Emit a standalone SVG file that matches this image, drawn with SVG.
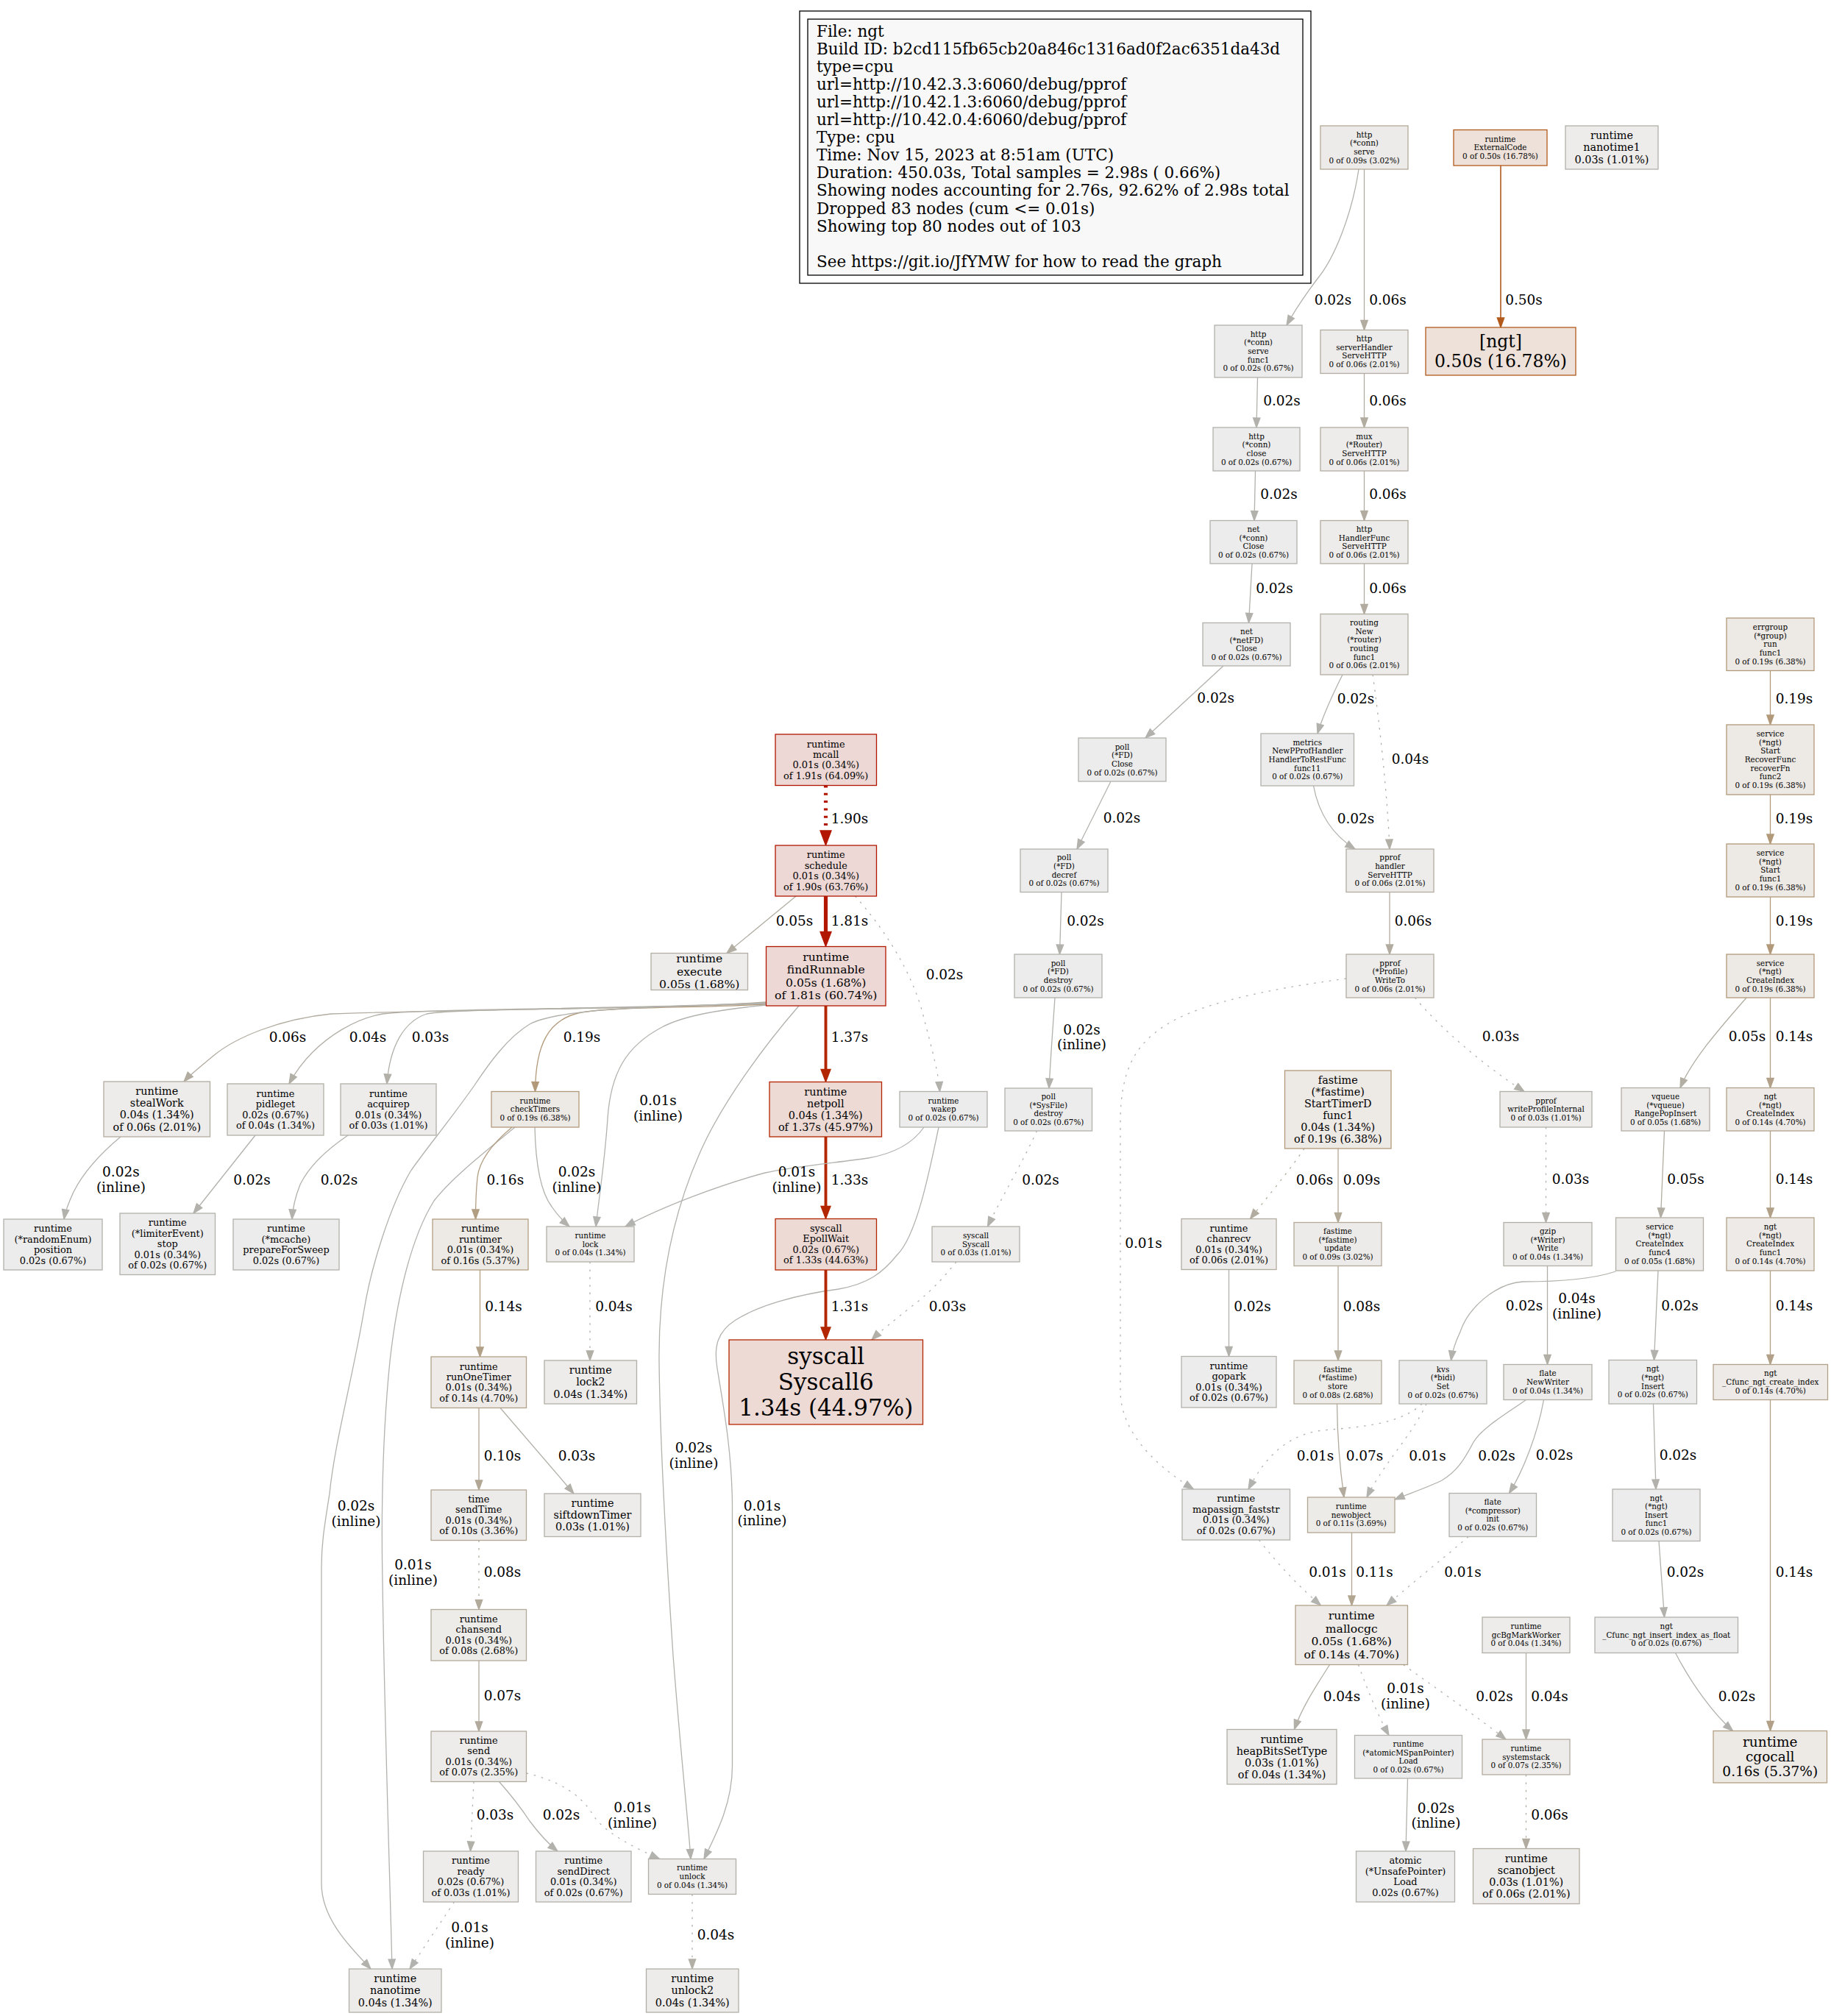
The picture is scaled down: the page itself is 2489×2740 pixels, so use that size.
<svg xmlns="http://www.w3.org/2000/svg" width="2489" height="2740" viewBox="0 0 2489 2740">
<style>
text{font-family:'DejaVu Serif','Liberation Serif',serif;fill:#000}
.node text{text-anchor:middle}
.f0{font-size:10.4px}.f1{font-size:12.9px}.f2{font-size:14.4px}.f3{font-size:15.6px}.f4{font-size:18.5px}.f5{font-size:23.5px}.f6{font-size:31px}
.node rect{stroke-width:1.3}
.n02{fill:#edecec;stroke:#b2b1ac}.n03{fill:#edeceb;stroke:#b2b0a9}.n04{fill:#edeceb;stroke:#b2afa6}.n05{fill:#edeceb;stroke:#b2aea3}
.n06{fill:#edecea;stroke:#b2aca0}.n07{fill:#edecea;stroke:#b2ab9d}.n08{fill:#edece9;stroke:#b2aa9a}.n09{fill:#edebe9;stroke:#b2a997}
.n10{fill:#edebe9;stroke:#b2a794}.n11{fill:#edebe8;stroke:#b2a691}.n14{fill:#edeae7;stroke:#b2a188}.n16{fill:#edeae6;stroke:#b29e82}
.n19{fill:#ede9e5;stroke:#b2997a}.n50{fill:#ede1d9;stroke:#b25a1c}
.nr1{fill:#edd8d5;stroke:#b21600}.nr2{fill:#edd8d5;stroke:#b21800}.nr3{fill:#eddad5;stroke:#b22500}.nr4{fill:#eddad5;stroke:#b22600}
.edge path{fill:none;stroke-width:1.3}
.edge text{font-size:18.5px;text-anchor:middle}
.d{stroke-dasharray:2.6 7.8}
.e01{stroke:#b2b2af}.e02{stroke:#b2b1ac}.e03{stroke:#b2b0a9}.e04{stroke:#b2afa6}.e05{stroke:#b2aea3}.e06{stroke:#b2aca0}
.e07{stroke:#b2ab9d}.e08{stroke:#b2aa9a}.e09{stroke:#b2a997}.e10{stroke:#b2a794}.e11{stroke:#b2a691}.e14{stroke:#b2a188}
.e16{stroke:#b29e82}.e19{stroke:#b2997a}.e50{stroke:#b25a1c}
</style>
<defs>
<marker id="a01" markerUnits="userSpaceOnUse" markerWidth="15" markerHeight="12" refX="14" refY="6" orient="auto" overflow="visible"><path d="M1,1.3 L14,6 L1,10.7 z" fill="#b2b2af" stroke="#b2b2af" stroke-width="1.3"/></marker>
<marker id="a02" markerUnits="userSpaceOnUse" markerWidth="15" markerHeight="12" refX="14" refY="6" orient="auto" overflow="visible"><path d="M1,1.3 L14,6 L1,10.7 z" fill="#b2b1ac" stroke="#b2b1ac" stroke-width="1.3"/></marker>
<marker id="a03" markerUnits="userSpaceOnUse" markerWidth="15" markerHeight="12" refX="14" refY="6" orient="auto" overflow="visible"><path d="M1,1.3 L14,6 L1,10.7 z" fill="#b2b0a9" stroke="#b2b0a9" stroke-width="1.3"/></marker>
<marker id="a04" markerUnits="userSpaceOnUse" markerWidth="15" markerHeight="12" refX="14" refY="6" orient="auto" overflow="visible"><path d="M1,1.3 L14,6 L1,10.7 z" fill="#b2afa6" stroke="#b2afa6" stroke-width="1.3"/></marker>
<marker id="a05" markerUnits="userSpaceOnUse" markerWidth="15" markerHeight="12" refX="14" refY="6" orient="auto" overflow="visible"><path d="M1,1.3 L14,6 L1,10.7 z" fill="#b2aea3" stroke="#b2aea3" stroke-width="1.3"/></marker>
<marker id="a06" markerUnits="userSpaceOnUse" markerWidth="15" markerHeight="12" refX="14" refY="6" orient="auto" overflow="visible"><path d="M1,1.3 L14,6 L1,10.7 z" fill="#b2aca0" stroke="#b2aca0" stroke-width="1.3"/></marker>
<marker id="a07" markerUnits="userSpaceOnUse" markerWidth="15" markerHeight="12" refX="14" refY="6" orient="auto" overflow="visible"><path d="M1,1.3 L14,6 L1,10.7 z" fill="#b2ab9d" stroke="#b2ab9d" stroke-width="1.3"/></marker>
<marker id="a08" markerUnits="userSpaceOnUse" markerWidth="15" markerHeight="12" refX="14" refY="6" orient="auto" overflow="visible"><path d="M1,1.3 L14,6 L1,10.7 z" fill="#b2aa9a" stroke="#b2aa9a" stroke-width="1.3"/></marker>
<marker id="a09" markerUnits="userSpaceOnUse" markerWidth="15" markerHeight="12" refX="14" refY="6" orient="auto" overflow="visible"><path d="M1,1.3 L14,6 L1,10.7 z" fill="#b2a997" stroke="#b2a997" stroke-width="1.3"/></marker>
<marker id="a10" markerUnits="userSpaceOnUse" markerWidth="15" markerHeight="12" refX="14" refY="6" orient="auto" overflow="visible"><path d="M1,1.3 L14,6 L1,10.7 z" fill="#b2a794" stroke="#b2a794" stroke-width="1.3"/></marker>
<marker id="a11" markerUnits="userSpaceOnUse" markerWidth="15" markerHeight="12" refX="14" refY="6" orient="auto" overflow="visible"><path d="M1,1.3 L14,6 L1,10.7 z" fill="#b2a691" stroke="#b2a691" stroke-width="1.3"/></marker>
<marker id="a14" markerUnits="userSpaceOnUse" markerWidth="15" markerHeight="12" refX="14" refY="6" orient="auto" overflow="visible"><path d="M1,1.3 L14,6 L1,10.7 z" fill="#b2a188" stroke="#b2a188" stroke-width="1.3"/></marker>
<marker id="a16" markerUnits="userSpaceOnUse" markerWidth="15" markerHeight="12" refX="14" refY="6" orient="auto" overflow="visible"><path d="M1,1.3 L14,6 L1,10.7 z" fill="#b29e82" stroke="#b29e82" stroke-width="1.3"/></marker>
<marker id="a19" markerUnits="userSpaceOnUse" markerWidth="15" markerHeight="12" refX="14" refY="6" orient="auto" overflow="visible"><path d="M1,1.3 L14,6 L1,10.7 z" fill="#b2997a" stroke="#b2997a" stroke-width="1.3"/></marker>
<marker id="a50" markerUnits="userSpaceOnUse" markerWidth="15" markerHeight="12" refX="14" refY="6" orient="auto" overflow="visible"><path d="M1,1.3 L14,6 L1,10.7 z" fill="#b25a1c" stroke="#b25a1c" stroke-width="1.3"/></marker>
<marker id="ar1" markerUnits="userSpaceOnUse" markerWidth="22" markerHeight="18" refX="0" refY="9" orient="auto" overflow="visible"><path d="M0,1.5 L20,9 L0,16.5 z" fill="#b21600" stroke="#b21600" stroke-width="1.3"/></marker>
<marker id="ar2" markerUnits="userSpaceOnUse" markerWidth="22" markerHeight="18" refX="0" refY="9" orient="auto" overflow="visible"><path d="M0,1.5 L20,9 L0,16.5 z" fill="#b21800" stroke="#b21800" stroke-width="1.3"/></marker>
<marker id="ar3" markerUnits="userSpaceOnUse" markerWidth="20" markerHeight="18" refX="0" refY="9" orient="auto" overflow="visible"><path d="M0,2.5 L17,9 L0,15.5 z" fill="#b22500" stroke="#b22500" stroke-width="1.3"/></marker>
<marker id="ar4" markerUnits="userSpaceOnUse" markerWidth="20" markerHeight="18" refX="0" refY="9" orient="auto" overflow="visible"><path d="M0,2.5 L17,9 L0,15.5 z" fill="#b22600" stroke="#b22600" stroke-width="1.3"/></marker>
<marker id="ar5" markerUnits="userSpaceOnUse" markerWidth="20" markerHeight="18" refX="0" refY="9" orient="auto" overflow="visible"><path d="M0,2.5 L17,9 L0,15.5 z" fill="#b22700" stroke="#b22700" stroke-width="1.3"/></marker>
</defs>
<rect x="0" y="0" width="2489" height="2740" fill="#ffffff"/>

<g id="legend">
<rect x="1087" y="15" width="695" height="370" fill="none" stroke="#000" stroke-width="1.3"/>
<rect x="1098" y="26" width="673" height="348" fill="#f8f8f8" stroke="#000" stroke-width="1.3"/>
<text x="1110" y="49.5" font-size="21.5">File: ngt</text>
<text x="1110" y="73.6" font-size="21.5">Build ID: b2cd115fb65cb20a846c1316ad0f2ac6351da43d</text>
<text x="1110" y="97.7" font-size="21.5">type=cpu</text>
<text x="1110" y="121.8" font-size="21.5">url=http://10.42.3.3:6060/debug/pprof</text>
<text x="1110" y="145.9" font-size="21.5">url=http://10.42.1.3:6060/debug/pprof</text>
<text x="1110" y="170" font-size="21.5">url=http://10.42.0.4:6060/debug/pprof</text>
<text x="1110" y="194.1" font-size="21.5">Type: cpu</text>
<text x="1110" y="218.2" font-size="21.5">Time: Nov 15, 2023 at 8:51am (UTC)</text>
<text x="1110" y="242.3" font-size="21.5">Duration: 450.03s, Total samples = 2.98s ( 0.66%)</text>
<text x="1110" y="266.4" font-size="21.5">Showing nodes accounting for 2.76s, 92.62% of 2.98s total</text>
<text x="1110" y="290.5" font-size="21.5">Dropped 83 nodes (cum &lt;= 0.01s)</text>
<text x="1110" y="314.6" font-size="21.5">Showing top 80 nodes out of 103</text>
<text x="1110" y="362.8" font-size="21.5">See https://git.io/JfYMW for how to read the graph</text>
</g>

<g id="edges">
<g class="edge" id="e_httpserve_func1"><path class="e02" marker-end="url(#a02)" d="M1847,230 C1838,290 1815,350 1790,380 C1775,400 1760,422 1749,442"/><text x="1812" y="413.9">0.02s</text></g>
<g class="edge" id="e_httpserve_handler"><path class="e06" marker-end="url(#a06)" d="M1854.5,230 V448.5"/><text x="1886.5" y="413.9">0.06s</text></g>
<g class="edge" id="e_extcode_ngt"><path class="e50" style="stroke-width:1.6" marker-end="url(#a50)" d="M2040,225 V445"/><text x="2071.5" y="413.9">0.50s</text></g>
<g class="edge" id="e_func1_close"><path class="e02" marker-end="url(#a02)" d="M1709.5,513 L1708,581"/><text x="1742.5" y="551.3">0.02s</text></g>
<g class="edge" id="e_handler_mux"><path class="e06" marker-end="url(#a06)" d="M1854.5,507.5 V581"/><text x="1886.5" y="551.3">0.06s</text></g>
<g class="edge" id="e_close_netclose"><path class="e02" marker-end="url(#a02)" d="M1706.5,640 L1705,707.5"/><text x="1738.5" y="678.3">0.02s</text></g>
<g class="edge" id="e_mux_hf"><path class="e06" marker-end="url(#a06)" d="M1854.5,640 V707.5"/><text x="1886.5" y="678.3">0.06s</text></g>
<g class="edge" id="e_netclose_netfd"><path class="e02" marker-end="url(#a02)" d="M1702,766 L1697.5,846.5"/><text x="1732.5" y="805.8">0.02s</text></g>
<g class="edge" id="e_hf_routing"><path class="e06" marker-end="url(#a06)" d="M1854.5,766 V834.5"/><text x="1886.5" y="805.8">0.06s</text></g>
<g class="edge" id="e_netfd_fdclose"><path class="e02" marker-end="url(#a02)" d="M1663,905 L1557,1003"/><text x="1652.7" y="955.3">0.02s</text></g>
<g class="edge" id="e_routing_metrics"><path class="e02" marker-end="url(#a02)" d="M1825,917 C1815,937 1800,967 1791,997"/><text x="1843" y="955.8">0.02s</text></g>
<g class="edge" id="e_routing_pprofh"><path class="e04 d" marker-end="url(#a04)" d="M1866,917 C1875,980 1886,1080 1889,1154"/><text x="1917" y="1038">0.04s</text></g>
<g class="edge" id="e_metrics_pprofh"><path class="e02" marker-end="url(#a02)" d="M1785.5,1068 C1793,1108 1812,1135 1842,1154"/><text x="1843" y="1118.8">0.02s</text></g>
<g class="edge" id="e_errgroup_recover"><path class="e19" marker-end="url(#a19)" d="M2406.5,911.5 V985"/><text x="2439" y="955.8">0.19s</text></g>
<g class="edge" id="e_fdclose_decref"><path class="e02" marker-end="url(#a02)" d="M1510,1062 L1464,1154"/><text x="1525" y="1118.3">0.02s</text></g>
<g class="edge" id="e_mcall_schedule"><path style="fill:none;stroke:#b21600;stroke-width:5.2;stroke-dasharray:3 7.3" marker-end="url(#ar1)" d="M1122.5,1067.5 V1129"/><text x="1155" y="1118.8">1.90s</text></g>
<g class="edge" id="e_pprofh_writeto"><path class="e06" marker-end="url(#a06)" d="M1889,1212.5 V1297"/><text x="1921" y="1258.1">0.06s</text></g>
<g class="edge" id="e_recover_startf1"><path class="e19" marker-end="url(#a19)" d="M2406.5,1080 V1147"/><text x="2439" y="1118.8">0.19s</text></g>
<g class="edge" id="e_startf1_ci"><path class="e19" marker-end="url(#a19)" d="M2406.5,1219 V1297"/><text x="2439" y="1258.1">0.19s</text></g>
<g class="edge" id="e_schedule_execute"><path class="e05" marker-end="url(#a05)" d="M1082,1218 L988,1295.5"/><text x="1080" y="1258.1">0.05s</text></g>
<g class="edge" id="e_schedule_findrunnable"><path style="fill:none;stroke:#b21800;stroke-width:5.2" marker-end="url(#ar2)" d="M1122.5,1218 V1266.5"/><text x="1155" y="1258.1">1.81s</text></g>
<g class="edge" id="e_schedule_wakep"><path class="e02 d" marker-end="url(#a02)" d="M1162.5,1218 C1200,1260 1240,1320 1255,1380 C1268,1430 1276,1460 1277.5,1483.5"/><text x="1284" y="1331.3">0.02s</text></g>
<g class="edge" id="e_decref_destroy"><path class="e02" marker-end="url(#a02)" d="M1443,1212.5 L1440.5,1297"/><text x="1475.5" y="1258.1">0.02s</text></g>
<g class="edge" id="e_findrunnable_netpoll"><path style="fill:none;stroke:#b22500;stroke-width:3.9" marker-end="url(#ar3)" d="M1122.5,1367 V1453.5"/><text x="1155" y="1415.7">1.37s</text></g>
<g class="edge" id="e_fr_stealwork"><path class="e06" marker-end="url(#a06)" d="M1041.5,1362 C900,1372 600,1372 450,1378 C380,1385 320,1410 290,1435 C272,1450 259,1460 250,1470"/><text x="391" y="1416.3">0.06s</text></g>
<g class="edge" id="e_fr_pidleget"><path class="e04" marker-end="url(#a04)" d="M1041.5,1363 C850,1372 600,1370 520,1378 C480,1385 445,1410 425,1430 C410,1445 400,1460 393,1473"/><text x="500" y="1416.3">0.04s</text></g>
<g class="edge" id="e_fr_acquirep"><path class="e03" marker-end="url(#a03)" d="M1041.5,1364 C850,1372 620,1370 580,1378 C550,1388 530,1420 526,1473"/><text x="585" y="1416.3">0.03s</text></g>
<g class="edge" id="e_fr_checktimers"><path class="e19" marker-end="url(#a19)" d="M1041.5,1365 C950,1370 840,1368 790,1376 C745,1385 728,1420 727.5,1483.5"/><text x="791" y="1415.7">0.19s</text></g>
<g class="edge" id="e_fr_lock"><path class="e01" marker-end="url(#a01)" d="M1041.5,1366 C980,1372 930,1380 900,1396 C850,1422 830,1460 826,1520 C822,1580 814,1630 810,1667"/><text x="894.5" y="1502.3"><tspan x="894.5">0.01s</tspan><tspan x="894.5" dy="1.1em">(inline)</tspan></text></g>
<g class="edge" id="e_fr_unlock"><path class="e02" marker-end="url(#a02)" d="M1086,1367 C1040,1420 980,1500 950,1570 C915,1650 895,1740 896,1850 C897,1950 905,2100 915,2250 C925,2380 935,2470 939,2526.5"/><text x="943" y="1974.3"><tspan x="943">0.02s</tspan><tspan x="943" dy="1.1em">(inline)</tspan></text></g>
<g class="edge" id="e_fr_nanotime"><path class="e02" marker-end="url(#a02)" d="M1041.5,1364 C900,1368 760,1370 720,1392 C690,1410 665,1445 645,1475 C610,1525 580,1560 558,1592 C530,1640 505,1720 495,1780 C480,1870 455,1960 448,2030 C440,2080 437,2100 437,2130 L437,2560 C437,2610 480,2650 504,2676"/><text x="484" y="2053.3"><tspan x="484">0.02s</tspan><tspan x="484" dy="1.1em">(inline)</tspan></text></g>
<g class="edge" id="e_ct_nanotime"><path class="e01" marker-end="url(#a01)" d="M700,1532 C660,1565 615,1600 590,1632 C560,1680 540,1760 530,1850 C520,1950 518,2050 520,2150 C523,2350 530,2550 533,2676"/><text x="561.5" y="2133.3"><tspan x="561.5">0.01s</tspan><tspan x="561.5" dy="1.1em">(inline)</tspan></text></g>
<g class="edge" id="e_ct_runtimer"><path class="e16" marker-end="url(#a16)" d="M696,1532 C672,1552 652,1575 649,1600 C647,1620 646.5,1640 646.5,1657"/><text x="686.8" y="1609.9">0.16s</text></g>
<g class="edge" id="e_ct_lock"><path class="e02" marker-end="url(#a02)" d="M727,1532 C728,1580 735,1620 750,1640 C758,1652 766,1660 774,1667"/><text x="784" y="1599.3"><tspan x="784">0.02s</tspan><tspan x="784" dy="1.1em">(inline)</tspan></text></g>
<g class="edge" id="e_netpoll_epoll"><path style="fill:none;stroke:#b22600;stroke-width:3.9" marker-end="url(#ar4)" d="M1122.5,1545 V1639.5"/><text x="1155" y="1609.9">1.33s</text></g>
<g class="edge" id="e_wakep_lock"><path class="e01" marker-end="url(#a01)" d="M1256,1532 C1240,1555 1215,1568 1180,1574 C1140,1580 1080,1585 1040,1594 C980,1610 900,1640 850,1667"/><text x="1083" y="1599.3"><tspan x="1083">0.01s</tspan><tspan x="1083" dy="1.1em">(inline)</tspan></text></g>
<g class="edge" id="e_wakep_unlock"><path class="e01" marker-end="url(#a01)" d="M1276,1532 C1262,1600 1245,1680 1220,1705 C1200,1730 1180,1745 1140,1752 C1080,1760 1030,1775 1000,1794 C975,1810 970,1830 975,1860 C985,1920 995.5,1980 995.5,2050 L995.5,2400 C995.5,2450 975,2490 957,2526.5"/><text x="1036" y="2053"><tspan x="1036">0.01s</tspan><tspan x="1036" dy="1.1em">(inline)</tspan></text></g>
<g class="edge" id="e_sysfile_syscall"><path class="e02 d" marker-end="url(#a02)" d="M1409.5,1537 C1390,1580 1360,1630 1342.5,1667"/><text x="1414.5" y="1609.9">0.02s</text></g>
<g class="edge" id="e_destroy_sysfile"><path class="e02" marker-end="url(#a02)" d="M1434,1356 C1431,1400 1428,1440 1426,1479"/><text x="1470.5" y="1405.9"><tspan x="1470.5">0.02s</tspan><tspan x="1470.5" dy="1.1em">(inline)</tspan></text></g>
<g class="edge" id="e_writeto_wpi"><path class="e03 d" marker-end="url(#a03)" d="M1923.5,1356 C1960,1400 2020,1450 2072,1483.5"/><text x="2040" y="1415.3">0.03s</text></g>
<g class="edge" id="e_writeto_mapassign"><path class="e01 d" marker-end="url(#a01)" d="M1830,1330 C1720,1345 1620,1365 1575,1400 C1540,1425 1524,1460 1523,1520 L1523,1890 C1523,1940 1560,1985 1622.5,2024"/><text x="1554.5" y="1696.3">0.01s</text></g>
<g class="edge" id="e_ci_vqueue"><path class="e05" marker-end="url(#a05)" d="M2374,1356 C2340,1395 2300,1440 2284,1478.5"/><text x="2375" y="1415.3">0.05s</text></g>
<g class="edge" id="e_ci_ngtci"><path class="e14" marker-end="url(#a14)" d="M2406.5,1356 V1478.5"/><text x="2439" y="1415.3">0.14s</text></g>
<g class="edge" id="e_std_chanrecv"><path class="e06 d" marker-end="url(#a06)" d="M1773,1561 C1750,1595 1720,1630 1699.5,1656.5"/><text x="1787" y="1609.9">0.06s</text></g>
<g class="edge" id="e_std_update"><path class="e09" marker-end="url(#a09)" d="M1819,1561 V1661.5"/><text x="1851" y="1609.9">0.09s</text></g>
<g class="edge" id="e_wpi_gzip"><path class="e03 d" marker-end="url(#a03)" d="M2101.5,1532 V1661.5"/><text x="2135" y="1609.3">0.03s</text></g>
<g class="edge" id="e_vqueue_func4"><path class="e05" marker-end="url(#a05)" d="M2262.5,1537 L2257.5,1655"/><text x="2291.5" y="1609.3">0.05s</text></g>
<g class="edge" id="e_ngtci_func1"><path class="e14" marker-end="url(#a14)" d="M2406.5,1537 V1655"/><text x="2439" y="1609.3">0.14s</text></g>
<g class="edge" id="e_steal_random"><path class="e02" marker-end="url(#a02)" d="M164,1545 C140,1565 115,1590 100,1620 C93,1635 89,1645 87,1657"/><text x="164.4" y="1599.3"><tspan x="164.4">0.02s</tspan><tspan x="164.4" dy="1.1em">(inline)</tspan></text></g>
<g class="edge" id="e_pidle_limiter"><path class="e02" marker-end="url(#a02)" d="M347,1543 L263,1649"/><text x="342.5" y="1609.8">0.02s</text></g>
<g class="edge" id="e_acq_mcache"><path class="e02" marker-end="url(#a02)" d="M473,1543 C445,1562 420,1585 408,1610 C402,1625 398,1640 397,1657"/><text x="461" y="1609.8">0.02s</text></g>
<g class="edge" id="e_runtimer_rot"><path class="e14" marker-end="url(#a14)" d="M652.5,1726 V1844"/><text x="684.5" y="1781.8">0.14s</text></g>
<g class="edge" id="e_lock_lock2"><path class="e04 d" marker-end="url(#a04)" d="M802,1715 V1849"/><text x="834.5" y="1781.8">0.04s</text></g>
<g class="edge" id="e_epoll_syscall6"><path style="fill:none;stroke:#b22700;stroke-width:3.9" marker-end="url(#ar5)" d="M1122.5,1726 V1804"/><text x="1155" y="1781.7">1.31s</text></g>
<g class="edge" id="e_syscall_syscall6"><path class="e03 d" marker-end="url(#a03)" d="M1300,1715 C1280,1740 1260,1760 1240,1775 C1215,1795 1198,1808 1185,1821"/><text x="1288" y="1781.7">0.03s</text></g>
<g class="edge" id="e_chanrecv_gopark"><path class="e02" marker-end="url(#a02)" d="M1670.5,1725.5 V1843.5"/><text x="1702.5" y="1781.8">0.02s</text></g>
<g class="edge" id="e_update_store"><path class="e08" marker-end="url(#a08)" d="M1819,1720.5 V1849"/><text x="1851" y="1781.8">0.08s</text></g>
<g class="edge" id="e_gzip_newwriter"><path class="e04" marker-end="url(#a04)" d="M2103.5,1720.5 V1854.5"/><text x="2143.5" y="1771.3"><tspan x="2143.5">0.04s</tspan><tspan x="2143.5" dy="1.1em">(inline)</tspan></text></g>
<g class="edge" id="e_func4_kvs"><path class="e02" marker-end="url(#a02)" d="M2196.5,1728 C2160,1740 2110,1742 2070,1742 C2030,1745 1995,1780 1985,1810 C1978,1825 1974,1838 1972.5,1849"/><text x="2072" y="1781.3">0.02s</text></g>
<g class="edge" id="e_func4_insert"><path class="e02" marker-end="url(#a02)" d="M2254,1727 L2248.5,1848.5"/><text x="2283.5" y="1781.3">0.02s</text></g>
<g class="edge" id="e_ngtcif1_cfunc"><path class="e14" marker-end="url(#a14)" d="M2406.5,1727 V1854.5"/><text x="2439" y="1781.3">0.14s</text></g>
<g class="edge" id="e_rot_sendtime"><path class="e10" marker-end="url(#a10)" d="M651,1913.5 V2025"/><text x="683" y="1984.8">0.10s</text></g>
<g class="edge" id="e_rot_siftdown"><path class="e03" marker-end="url(#a03)" d="M680,1913.5 L780,2030"/><text x="784" y="1984.8">0.03s</text></g>
<g class="edge" id="e_store_newobject"><path class="e07" marker-end="url(#a07)" d="M1817.5,1908 C1818,1960 1822,2000 1827,2035"/><text x="1855" y="1985">0.07s</text></g>
<g class="edge" id="e_kvs_newobject"><path class="e01 d" marker-end="url(#a01)" d="M1939,1908 C1920,1950 1880,1990 1858,2035"/><text x="1940.5" y="1985">0.01s</text></g>
<g class="edge" id="e_kvs_mapassign"><path class="e01 d" marker-end="url(#a01)" d="M1933,1908 C1900,1940 1830,1940 1790,1945 C1740,1955 1715,1990 1697,2024"/><text x="1788" y="1985">0.01s</text></g>
<g class="edge" id="e_newwriter_newobject"><path class="e02" marker-end="url(#a02)" d="M2074.5,1902.5 C2050,1920 2015,1940 2003,1960 C1990,1985 1980,2000 1960,2012 C1940,2022 1915,2030 1896,2038"/><text x="2034.5" y="1985">0.02s</text></g>
<g class="edge" id="e_newwriter_compressor"><path class="e02" marker-end="url(#a02)" d="M2098.5,1902.5 C2090,1950 2070,2000 2051.5,2029.5"/><text x="2113" y="1984.3">0.02s</text></g>
<g class="edge" id="e_insert_insertf1"><path class="e02" marker-end="url(#a02)" d="M2247.5,1908 L2251,2024"/><text x="2281" y="1984.3">0.02s</text></g>
<g class="edge" id="e_cfunc_cgocall"><path class="e14" marker-end="url(#a14)" d="M2406.5,1902.5 V2352.5"/><text x="2439" y="2143.3">0.14s</text></g>
<g class="edge" id="e_sendtime_chansend"><path class="e08 d" marker-end="url(#a08)" d="M651,2093.5 V2187.5"/><text x="683" y="2143.3">0.08s</text></g>
<g class="edge" id="e_mapassign_mallocgc"><path class="e01 d" marker-end="url(#a01)" d="M1711.5,2093 C1740,2130 1770,2160 1795.5,2182"/><text x="1804.5" y="2143.3">0.01s</text></g>
<g class="edge" id="e_newobject_mallocgc"><path class="e11" marker-end="url(#a11)" d="M1837.5,2083 V2182"/><text x="1868.5" y="2143.3">0.11s</text></g>
<g class="edge" id="e_compressor_mallocgc"><path class="e01 d" marker-end="url(#a01)" d="M1996,2088.5 C1960,2120 1915,2155 1885,2182"/><text x="1988.5" y="2143.3">0.01s</text></g>
<g class="edge" id="e_insertf1_cfuncins"><path class="e02" marker-end="url(#a02)" d="M2255,2094.5 L2262.5,2198"/><text x="2291" y="2143.3">0.02s</text></g>
<g class="edge" id="e_chansend_send"><path class="e07" marker-end="url(#a07)" d="M651,2257 V2353"/><text x="683" y="2311.3">0.07s</text></g>
<g class="edge" id="e_mallocgc_heapbits"><path class="e04" marker-end="url(#a04)" d="M1807.5,2262.5 C1790,2290 1770,2320 1759.5,2350.5"/><text x="1824" y="2311.8">0.04s</text></g>
<g class="edge" id="e_mallocgc_atomic"><path class="e01 d" marker-end="url(#a01)" d="M1846.5,2262.5 C1860,2300 1875,2335 1888,2358.5"/><text x="1910.5" y="2301.3"><tspan x="1910.5">0.01s</tspan><tspan x="1910.5" dy="1.1em">(inline)</tspan></text></g>
<g class="edge" id="e_mallocgc_systemstack"><path class="e02 d" marker-end="url(#a02)" d="M1907.5,2262.5 C1960,2300 2010,2335 2047,2364"/><text x="2031.5" y="2311.8">0.02s</text></g>
<g class="edge" id="e_gcbg_systemstack"><path class="e04" marker-end="url(#a04)" d="M2074.5,2246.5 V2364"/><text x="2106.5" y="2311.8">0.04s</text></g>
<g class="edge" id="e_cfuncins_cgocall"><path class="e02" marker-end="url(#a02)" d="M2277.5,2246.5 C2300,2290 2330,2330 2355.5,2352.5"/><text x="2361" y="2311.8">0.02s</text></g>
<g class="edge" id="e_send_ready"><path class="e03 d" marker-end="url(#a03)" d="M644,2421.5 L639.5,2516"/><text x="673" y="2473.3">0.03s</text></g>
<g class="edge" id="e_send_senddirect"><path class="e02" marker-end="url(#a02)" d="M678.5,2421.5 C695,2440 710,2460 720,2475 C735,2495 748,2508 758,2516"/><text x="763" y="2473.3">0.02s</text></g>
<g class="edge" id="e_send_unlock"><path class="e01 d" marker-end="url(#a01)" d="M715.5,2410 C760,2420 790,2440 805,2465 C820,2490 860,2510 896.5,2526.5"/><text x="859.5" y="2463.3"><tspan x="859.5">0.01s</tspan><tspan x="859.5" dy="1.1em">(inline)</tspan></text></g>
<g class="edge" id="e_atomic_unsafe"><path class="e02" marker-end="url(#a02)" d="M1913.5,2417 L1911,2516"/><text x="1952" y="2463.9"><tspan x="1952">0.02s</tspan><tspan x="1952" dy="1.1em">(inline)</tspan></text></g>
<g class="edge" id="e_systemstack_scan"><path class="e06 d" marker-end="url(#a06)" d="M2074.5,2412 V2512.5"/><text x="2106.5" y="2473.3">0.06s</text></g>
<g class="edge" id="e_ready_nanotime"><path class="e01 d" marker-end="url(#a01)" d="M617.5,2585 L557,2676"/><text x="638.5" y="2626.3"><tspan x="638.5">0.01s</tspan><tspan x="638.5" dy="1.1em">(inline)</tspan></text></g>
<g class="edge" id="e_unlock_unlock2"><path class="e04 d" marker-end="url(#a04)" d="M941,2574.5 V2676"/><text x="973" y="2635.7">0.04s</text></g>
</g>

<g id="nodes">
<g class="node" id="n_http_serve"><rect class="n09" x="1795" y="171" width="119" height="59"/><text class="f0" x="1854.5" y="186.6"><tspan x="1854.5">http</tspan><tspan x="1854.5" dy="1.12em">(*conn)</tspan><tspan x="1854.5" dy="1.12em">serve</tspan><tspan x="1854.5" dy="1.12em">0 of 0.09s (3.02%)</tspan></text></g>
<g class="node" id="n_externalcode"><rect class="n50" x="1976" y="176.5" width="127" height="48.5"/><text class="f0" x="2039.5" y="192.6"><tspan x="2039.5">runtime</tspan><tspan x="2039.5" dy="1.12em">ExternalCode</tspan><tspan x="2039.5" dy="1.12em">0 of 0.50s (16.78%)</tspan></text></g>
<g class="node" id="n_nanotime1"><rect class="n03" x="2128" y="171" width="126" height="59"/><text class="f2" x="2191" y="189.3"><tspan x="2191">runtime</tspan><tspan x="2191" dy="1.12em">nanotime1</tspan><tspan x="2191" dy="1.12em">0.03s (1.01%)</tspan></text></g>
<g class="node" id="n_ngt"><rect class="n50" x="1938" y="445" width="204" height="65"/><text class="f5" x="2040" y="472.3"><tspan x="2040">[ngt]</tspan><tspan x="2040" dy="1.12em">0.50s (16.78%)</tspan></text></g>
<g class="node" id="n_serve_func1"><rect class="n02" x="1651" y="442" width="119" height="71"/><text class="f0" x="1710.5" y="457.7"><tspan x="1710.5">http</tspan><tspan x="1710.5" dy="1.12em">(*conn)</tspan><tspan x="1710.5" dy="1.12em">serve</tspan><tspan x="1710.5" dy="1.12em">func1</tspan><tspan x="1710.5" dy="1.12em">0 of 0.02s (0.67%)</tspan></text></g>
<g class="node" id="n_serverhandler"><rect class="n06" x="1795" y="448.5" width="119" height="59"/><text class="f0" x="1854.5" y="464.1"><tspan x="1854.5">http</tspan><tspan x="1854.5" dy="1.12em">serverHandler</tspan><tspan x="1854.5" dy="1.12em">ServeHTTP</tspan><tspan x="1854.5" dy="1.12em">0 of 0.06s (2.01%)</tspan></text></g>
<g class="node" id="n_conn_close"><rect class="n02" x="1649" y="581" width="118" height="59"/><text class="f0" x="1708" y="596.6"><tspan x="1708">http</tspan><tspan x="1708" dy="1.12em">(*conn)</tspan><tspan x="1708" dy="1.12em">close</tspan><tspan x="1708" dy="1.12em">0 of 0.02s (0.67%)</tspan></text></g>
<g class="node" id="n_mux"><rect class="n06" x="1795" y="581" width="119" height="59"/><text class="f0" x="1854.5" y="596.6"><tspan x="1854.5">mux</tspan><tspan x="1854.5" dy="1.12em">(*Router)</tspan><tspan x="1854.5" dy="1.12em">ServeHTTP</tspan><tspan x="1854.5" dy="1.12em">0 of 0.06s (2.01%)</tspan></text></g>
<g class="node" id="n_net_conn_close"><rect class="n02" x="1645" y="707.5" width="118" height="58.5"/><text class="f0" x="1704" y="722.9"><tspan x="1704">net</tspan><tspan x="1704" dy="1.12em">(*conn)</tspan><tspan x="1704" dy="1.12em">Close</tspan><tspan x="1704" dy="1.12em">0 of 0.02s (0.67%)</tspan></text></g>
<g class="node" id="n_handlerfunc"><rect class="n06" x="1795" y="707.5" width="119" height="58.5"/><text class="f0" x="1854.5" y="722.9"><tspan x="1854.5">http</tspan><tspan x="1854.5" dy="1.12em">HandlerFunc</tspan><tspan x="1854.5" dy="1.12em">ServeHTTP</tspan><tspan x="1854.5" dy="1.12em">0 of 0.06s (2.01%)</tspan></text></g>
<g class="node" id="n_netfd_close"><rect class="n02" x="1635" y="846.5" width="119" height="58.5"/><text class="f0" x="1694.5" y="861.9"><tspan x="1694.5">net</tspan><tspan x="1694.5" dy="1.12em">(*netFD)</tspan><tspan x="1694.5" dy="1.12em">Close</tspan><tspan x="1694.5" dy="1.12em">0 of 0.02s (0.67%)</tspan></text></g>
<g class="node" id="n_routing"><rect class="n06" x="1795" y="834.5" width="119" height="82.5"/><text class="f0" x="1854.5" y="850.2"><tspan x="1854.5">routing</tspan><tspan x="1854.5" dy="1.12em">New</tspan><tspan x="1854.5" dy="1.12em">(*router)</tspan><tspan x="1854.5" dy="1.12em">routing</tspan><tspan x="1854.5" dy="1.12em">func1</tspan><tspan x="1854.5" dy="1.12em">0 of 0.06s (2.01%)</tspan></text></g>
<g class="node" id="n_errgroup"><rect class="n19" x="2347" y="840" width="119" height="71.5"/><text class="f0" x="2406.5" y="856"><tspan x="2406.5">errgroup</tspan><tspan x="2406.5" dy="1.12em">(*group)</tspan><tspan x="2406.5" dy="1.12em">run</tspan><tspan x="2406.5" dy="1.12em">func1</tspan><tspan x="2406.5" dy="1.12em">0 of 0.19s (6.38%)</tspan></text></g>
<g class="node" id="n_mcall"><rect class="nr1" x="1054" y="998" width="137.5" height="69.5"/><text class="f1" x="1122.75" y="1015.5"><tspan x="1122.75">runtime</tspan><tspan x="1122.75" dy="1.12em">mcall</tspan><tspan x="1122.75" dy="1.12em">0.01s (0.34%)</tspan><tspan x="1122.75" dy="1.12em">of 1.91s (64.09%)</tspan></text></g>
<g class="node" id="n_fd_close"><rect class="n02" x="1466" y="1003" width="119" height="59"/><text class="f0" x="1525.5" y="1018.6"><tspan x="1525.5">poll</tspan><tspan x="1525.5" dy="1.12em">(*FD)</tspan><tspan x="1525.5" dy="1.12em">Close</tspan><tspan x="1525.5" dy="1.12em">0 of 0.02s (0.67%)</tspan></text></g>
<g class="node" id="n_metrics"><rect class="n02" x="1714" y="997" width="126.5" height="71"/><text class="f0" x="1777.25" y="1012.7"><tspan x="1777.25">metrics</tspan><tspan x="1777.25" dy="1.12em">NewPProfHandler</tspan><tspan x="1777.25" dy="1.12em">HandlerToRestFunc</tspan><tspan x="1777.25" dy="1.12em">func11</tspan><tspan x="1777.25" dy="1.12em">0 of 0.02s (0.67%)</tspan></text></g>
<g class="node" id="n_recoverfn"><rect class="n19" x="2347" y="985" width="119" height="95"/><text class="f0" x="2406.5" y="1001.1"><tspan x="2406.5">service</tspan><tspan x="2406.5" dy="1.12em">(*ngt)</tspan><tspan x="2406.5" dy="1.12em">Start</tspan><tspan x="2406.5" dy="1.12em">RecoverFunc</tspan><tspan x="2406.5" dy="1.12em">recoverFn</tspan><tspan x="2406.5" dy="1.12em">func2</tspan><tspan x="2406.5" dy="1.12em">0 of 0.19s (6.38%)</tspan></text></g>
<g class="node" id="n_schedule"><rect class="nr1" x="1054" y="1149" width="137.5" height="69"/><text class="f1" x="1122.75" y="1166.2"><tspan x="1122.75">runtime</tspan><tspan x="1122.75" dy="1.12em">schedule</tspan><tspan x="1122.75" dy="1.12em">0.01s (0.34%)</tspan><tspan x="1122.75" dy="1.12em">of 1.90s (63.76%)</tspan></text></g>
<g class="node" id="n_fd_decref"><rect class="n02" x="1387" y="1154" width="119" height="58.5"/><text class="f0" x="1446.5" y="1169.4"><tspan x="1446.5">poll</tspan><tspan x="1446.5" dy="1.12em">(*FD)</tspan><tspan x="1446.5" dy="1.12em">decref</tspan><tspan x="1446.5" dy="1.12em">0 of 0.02s (0.67%)</tspan></text></g>
<g class="node" id="n_pprof_handler"><rect class="n06" x="1830" y="1154" width="119" height="58.5"/><text class="f0" x="1889.5" y="1169.4"><tspan x="1889.5">pprof</tspan><tspan x="1889.5" dy="1.12em">handler</tspan><tspan x="1889.5" dy="1.12em">ServeHTTP</tspan><tspan x="1889.5" dy="1.12em">0 of 0.06s (2.01%)</tspan></text></g>
<g class="node" id="n_start_func1"><rect class="n19" x="2347" y="1147" width="119" height="72"/><text class="f0" x="2406.5" y="1163.2"><tspan x="2406.5">service</tspan><tspan x="2406.5" dy="1.12em">(*ngt)</tspan><tspan x="2406.5" dy="1.12em">Start</tspan><tspan x="2406.5" dy="1.12em">func1</tspan><tspan x="2406.5" dy="1.12em">0 of 0.19s (6.38%)</tspan></text></g>
<g class="node" id="n_execute"><rect class="n05" x="885" y="1295.5" width="131.5" height="50"/><text class="f3" x="950.75" y="1308.3"><tspan x="950.75">runtime</tspan><tspan x="950.75" dy="1.12em">execute</tspan><tspan x="950.75" dy="1.12em">0.05s (1.68%)</tspan></text></g>
<g class="node" id="n_findrunnable"><rect class="nr2" x="1041.5" y="1286.5" width="162.5" height="80.5"/><text class="f3" x="1122.75" y="1305.9"><tspan x="1122.75">runtime</tspan><tspan x="1122.75" dy="1.12em">findRunnable</tspan><tspan x="1122.75" dy="1.12em">0.05s (1.68%)</tspan><tspan x="1122.75" dy="1.12em">of 1.81s (60.74%)</tspan></text></g>
<g class="node" id="n_fd_destroy"><rect class="n02" x="1379" y="1297" width="119" height="59"/><text class="f0" x="1438.5" y="1312.6"><tspan x="1438.5">poll</tspan><tspan x="1438.5" dy="1.12em">(*FD)</tspan><tspan x="1438.5" dy="1.12em">destroy</tspan><tspan x="1438.5" dy="1.12em">0 of 0.02s (0.67%)</tspan></text></g>
<g class="node" id="n_writeto"><rect class="n06" x="1830" y="1297" width="119" height="59"/><text class="f0" x="1889.5" y="1312.6"><tspan x="1889.5">pprof</tspan><tspan x="1889.5" dy="1.12em">(*Profile)</tspan><tspan x="1889.5" dy="1.12em">WriteTo</tspan><tspan x="1889.5" dy="1.12em">0 of 0.06s (2.01%)</tspan></text></g>
<g class="node" id="n_svc_createindex"><rect class="n19" x="2347" y="1297" width="119" height="59"/><text class="f0" x="2406.5" y="1312.6"><tspan x="2406.5">service</tspan><tspan x="2406.5" dy="1.12em">(*ngt)</tspan><tspan x="2406.5" dy="1.12em">CreateIndex</tspan><tspan x="2406.5" dy="1.12em">0 of 0.19s (6.38%)</tspan></text></g>
<g class="node" id="n_stealwork"><rect class="n06" x="141" y="1470" width="144.5" height="75"/><text class="f2" x="213.25" y="1488.2"><tspan x="213.25">runtime</tspan><tspan x="213.25" dy="1.12em">stealWork</tspan><tspan x="213.25" dy="1.12em">0.04s (1.34%)</tspan><tspan x="213.25" dy="1.12em">of 0.06s (2.01%)</tspan></text></g>
<g class="node" id="n_pidleget"><rect class="n04" x="309" y="1473" width="131" height="70"/><text class="f1" x="374.5" y="1490.7"><tspan x="374.5">runtime</tspan><tspan x="374.5" dy="1.12em">pidleget</tspan><tspan x="374.5" dy="1.12em">0.02s (0.67%)</tspan><tspan x="374.5" dy="1.12em">of 0.04s (1.34%)</tspan></text></g>
<g class="node" id="n_acquirep"><rect class="n03" x="463" y="1473" width="130" height="70"/><text class="f1" x="528" y="1490.7"><tspan x="528">runtime</tspan><tspan x="528" dy="1.12em">acquirep</tspan><tspan x="528" dy="1.12em">0.01s (0.34%)</tspan><tspan x="528" dy="1.12em">of 0.03s (1.01%)</tspan></text></g>
<g class="node" id="n_checktimers"><rect class="n19" x="668" y="1483.5" width="119" height="48.5"/><text class="f0" x="727.5" y="1499.6"><tspan x="727.5">runtime</tspan><tspan x="727.5" dy="1.12em">checkTimers</tspan><tspan x="727.5" dy="1.12em">0 of 0.19s (6.38%)</tspan></text></g>
<g class="node" id="n_netpoll"><rect class="nr3" x="1046" y="1470.5" width="152.5" height="74.5"/><text class="f2" x="1122.25" y="1488.5"><tspan x="1122.25">runtime</tspan><tspan x="1122.25" dy="1.12em">netpoll</tspan><tspan x="1122.25" dy="1.12em">0.04s (1.34%)</tspan><tspan x="1122.25" dy="1.12em">of 1.37s (45.97%)</tspan></text></g>
<g class="node" id="n_wakep"><rect class="n02" x="1223" y="1483.5" width="119" height="48.5"/><text class="f0" x="1282.5" y="1499.6"><tspan x="1282.5">runtime</tspan><tspan x="1282.5" dy="1.12em">wakep</tspan><tspan x="1282.5" dy="1.12em">0 of 0.02s (0.67%)</tspan></text></g>
<g class="node" id="n_sysfile_destroy"><rect class="n02" x="1366" y="1479" width="118.5" height="58"/><text class="f0" x="1425.25" y="1494.1"><tspan x="1425.25">poll</tspan><tspan x="1425.25" dy="1.12em">(*SysFile)</tspan><tspan x="1425.25" dy="1.12em">destroy</tspan><tspan x="1425.25" dy="1.12em">0 of 0.02s (0.67%)</tspan></text></g>
<g class="node" id="n_starttimerd"><rect class="n19" x="1746.5" y="1455" width="144.5" height="106"/><text class="f2" x="1818.75" y="1472.6"><tspan x="1818.75">fastime</tspan><tspan x="1818.75" dy="1.12em">(*fastime)</tspan><tspan x="1818.75" dy="1.12em">StartTimerD</tspan><tspan x="1818.75" dy="1.12em">func1</tspan><tspan x="1818.75" dy="1.12em">0.04s (1.34%)</tspan><tspan x="1818.75" dy="1.12em">of 0.19s (6.38%)</tspan></text></g>
<g class="node" id="n_writeprofileinternal"><rect class="n03" x="2039" y="1483.5" width="125" height="48.5"/><text class="f0" x="2101.5" y="1499.6"><tspan x="2101.5">pprof</tspan><tspan x="2101.5" dy="1.12em">writeProfileInternal</tspan><tspan x="2101.5" dy="1.12em">0 of 0.03s (1.01%)</tspan></text></g>
<g class="node" id="n_vqueue"><rect class="n05" x="2204" y="1478.5" width="120" height="58.5"/><text class="f0" x="2264" y="1493.9"><tspan x="2264">vqueue</tspan><tspan x="2264" dy="1.12em">(*vqueue)</tspan><tspan x="2264" dy="1.12em">RangePopInsert</tspan><tspan x="2264" dy="1.12em">0 of 0.05s (1.68%)</tspan></text></g>
<g class="node" id="n_ngt_createindex"><rect class="n14" x="2347" y="1478.5" width="119" height="58.5"/><text class="f0" x="2406.5" y="1493.9"><tspan x="2406.5">ngt</tspan><tspan x="2406.5" dy="1.12em">(*ngt)</tspan><tspan x="2406.5" dy="1.12em">CreateIndex</tspan><tspan x="2406.5" dy="1.12em">0 of 0.14s (4.70%)</tspan></text></g>
<g class="node" id="n_randomenum"><rect class="n02" x="5" y="1657" width="134" height="69"/><text class="f1" x="72" y="1674.2"><tspan x="72">runtime</tspan><tspan x="72" dy="1.12em">(*randomEnum)</tspan><tspan x="72" dy="1.12em">position</tspan><tspan x="72" dy="1.12em">0.02s (0.67%)</tspan></text></g>
<g class="node" id="n_limiterevent"><rect class="n02" x="163" y="1649" width="129.5" height="83.5"/><text class="f1" x="227.75" y="1666.3"><tspan x="227.75">runtime</tspan><tspan x="227.75" dy="1.12em">(*limiterEvent)</tspan><tspan x="227.75" dy="1.12em">stop</tspan><tspan x="227.75" dy="1.12em">0.01s (0.34%)</tspan><tspan x="227.75" dy="1.12em">of 0.02s (0.67%)</tspan></text></g>
<g class="node" id="n_mcache"><rect class="n02" x="317" y="1657" width="144" height="69"/><text class="f1" x="389" y="1674.2"><tspan x="389">runtime</tspan><tspan x="389" dy="1.12em">(*mcache)</tspan><tspan x="389" dy="1.12em">prepareForSweep</tspan><tspan x="389" dy="1.12em">0.02s (0.67%)</tspan></text></g>
<g class="node" id="n_runtimer"><rect class="n16" x="588" y="1657" width="130" height="69"/><text class="f1" x="653" y="1674.2"><tspan x="653">runtime</tspan><tspan x="653" dy="1.12em">runtimer</tspan><tspan x="653" dy="1.12em">0.01s (0.34%)</tspan><tspan x="653" dy="1.12em">of 0.16s (5.37%)</tspan></text></g>
<g class="node" id="n_lock"><rect class="n04" x="743" y="1667" width="119" height="48"/><text class="f0" x="802.5" y="1682.9"><tspan x="802.5">runtime</tspan><tspan x="802.5" dy="1.12em">lock</tspan><tspan x="802.5" dy="1.12em">0 of 0.04s (1.34%)</tspan></text></g>
<g class="node" id="n_epollwait"><rect class="nr4" x="1054" y="1656.5" width="137.5" height="69.5"/><text class="f1" x="1122.75" y="1674"><tspan x="1122.75">syscall</tspan><tspan x="1122.75" dy="1.12em">EpollWait</tspan><tspan x="1122.75" dy="1.12em">0.02s (0.67%)</tspan><tspan x="1122.75" dy="1.12em">of 1.33s (44.63%)</tspan></text></g>
<g class="node" id="n_syscall"><rect class="n03" x="1267" y="1667" width="119" height="48"/><text class="f0" x="1326.5" y="1682.9"><tspan x="1326.5">syscall</tspan><tspan x="1326.5" dy="1.12em">Syscall</tspan><tspan x="1326.5" dy="1.12em">0 of 0.03s (1.01%)</tspan></text></g>
<g class="node" id="n_chanrecv"><rect class="n06" x="1606" y="1656.5" width="129" height="69"/><text class="f1" x="1670.5" y="1673.7"><tspan x="1670.5">runtime</tspan><tspan x="1670.5" dy="1.12em">chanrecv</tspan><tspan x="1670.5" dy="1.12em">0.01s (0.34%)</tspan><tspan x="1670.5" dy="1.12em">of 0.06s (2.01%)</tspan></text></g>
<g class="node" id="n_update"><rect class="n09" x="1759" y="1661.5" width="119" height="59"/><text class="f0" x="1818.5" y="1677.1"><tspan x="1818.5">fastime</tspan><tspan x="1818.5" dy="1.12em">(*fastime)</tspan><tspan x="1818.5" dy="1.12em">update</tspan><tspan x="1818.5" dy="1.12em">0 of 0.09s (3.02%)</tspan></text></g>
<g class="node" id="n_gzip"><rect class="n04" x="2044" y="1661.5" width="120" height="59"/><text class="f0" x="2104" y="1677.1"><tspan x="2104">gzip</tspan><tspan x="2104" dy="1.12em">(*Writer)</tspan><tspan x="2104" dy="1.12em">Write</tspan><tspan x="2104" dy="1.12em">0 of 0.04s (1.34%)</tspan></text></g>
<g class="node" id="n_func4"><rect class="n05" x="2196.5" y="1655" width="119" height="72"/><text class="f0" x="2256" y="1671.2"><tspan x="2256">service</tspan><tspan x="2256" dy="1.12em">(*ngt)</tspan><tspan x="2256" dy="1.12em">CreateIndex</tspan><tspan x="2256" dy="1.12em">func4</tspan><tspan x="2256" dy="1.12em">0 of 0.05s (1.68%)</tspan></text></g>
<g class="node" id="n_ngt_ci_func1"><rect class="n14" x="2347" y="1655" width="119" height="72"/><text class="f0" x="2406.5" y="1671.2"><tspan x="2406.5">ngt</tspan><tspan x="2406.5" dy="1.12em">(*ngt)</tspan><tspan x="2406.5" dy="1.12em">CreateIndex</tspan><tspan x="2406.5" dy="1.12em">func1</tspan><tspan x="2406.5" dy="1.12em">0 of 0.14s (4.70%)</tspan></text></g>
<g class="node" id="n_syscall6"><rect class="nr4" x="991" y="1821" width="263.5" height="115"/><text class="f6" x="1122.75" y="1854.3"><tspan x="1122.75">syscall</tspan><tspan x="1122.75" dy="1.12em">Syscall6</tspan><tspan x="1122.75" dy="1.12em">1.34s (44.97%)</tspan></text></g>
<g class="node" id="n_runonetimer"><rect class="n14" x="586" y="1844" width="129.5" height="69.5"/><text class="f1" x="650.75" y="1861.5"><tspan x="650.75">runtime</tspan><tspan x="650.75" dy="1.12em">runOneTimer</tspan><tspan x="650.75" dy="1.12em">0.01s (0.34%)</tspan><tspan x="650.75" dy="1.12em">of 0.14s (4.70%)</tspan></text></g>
<g class="node" id="n_lock2"><rect class="n04" x="740" y="1849" width="125.5" height="59"/><text class="f2" x="802.75" y="1867.3"><tspan x="802.75">runtime</tspan><tspan x="802.75" dy="1.12em">lock2</tspan><tspan x="802.75" dy="1.12em">0.04s (1.34%)</tspan></text></g>
<g class="node" id="n_gopark"><rect class="n02" x="1606" y="1843.5" width="129" height="69.5"/><text class="f1" x="1670.5" y="1861"><tspan x="1670.5">runtime</tspan><tspan x="1670.5" dy="1.12em">gopark</tspan><tspan x="1670.5" dy="1.12em">0.01s (0.34%)</tspan><tspan x="1670.5" dy="1.12em">of 0.02s (0.67%)</tspan></text></g>
<g class="node" id="n_store"><rect class="n08" x="1759" y="1849" width="119" height="59"/><text class="f0" x="1818.5" y="1864.6"><tspan x="1818.5">fastime</tspan><tspan x="1818.5" dy="1.12em">(*fastime)</tspan><tspan x="1818.5" dy="1.12em">store</tspan><tspan x="1818.5" dy="1.12em">0 of 0.08s (2.68%)</tspan></text></g>
<g class="node" id="n_kvs"><rect class="n02" x="1902" y="1849" width="119" height="59"/><text class="f0" x="1961.5" y="1864.6"><tspan x="1961.5">kvs</tspan><tspan x="1961.5" dy="1.12em">(*bidi)</tspan><tspan x="1961.5" dy="1.12em">Set</tspan><tspan x="1961.5" dy="1.12em">0 of 0.02s (0.67%)</tspan></text></g>
<g class="node" id="n_newwriter"><rect class="n04" x="2044" y="1854.5" width="120" height="48"/><text class="f0" x="2104" y="1870.4"><tspan x="2104">flate</tspan><tspan x="2104" dy="1.12em">NewWriter</tspan><tspan x="2104" dy="1.12em">0 of 0.04s (1.34%)</tspan></text></g>
<g class="node" id="n_ngt_insert"><rect class="n02" x="2187" y="1848.5" width="119.5" height="59.5"/><text class="f0" x="2246.75" y="1864.4"><tspan x="2246.75">ngt</tspan><tspan x="2246.75" dy="1.12em">(*ngt)</tspan><tspan x="2246.75" dy="1.12em">Insert</tspan><tspan x="2246.75" dy="1.12em">0 of 0.02s (0.67%)</tspan></text></g>
<g class="node" id="n_cfunc_create"><rect class="n14" x="2329" y="1854.5" width="155.5" height="48"/><text class="f0" x="2406.75" y="1870.4"><tspan x="2406.75">ngt</tspan><tspan x="2406.75" dy="1.12em">_Cfunc_ngt_create_index</tspan><tspan x="2406.75" dy="1.12em">0 of 0.14s (4.70%)</tspan></text></g>
<g class="node" id="n_sendtime"><rect class="n10" x="586" y="2025" width="129.5" height="68.5"/><text class="f1" x="650.75" y="2042"><tspan x="650.75">time</tspan><tspan x="650.75" dy="1.12em">sendTime</tspan><tspan x="650.75" dy="1.12em">0.01s (0.34%)</tspan><tspan x="650.75" dy="1.12em">of 0.10s (3.36%)</tspan></text></g>
<g class="node" id="n_siftdown"><rect class="n03" x="740" y="2030" width="131" height="58.5"/><text class="f2" x="805.5" y="2048"><tspan x="805.5">runtime</tspan><tspan x="805.5" dy="1.12em">siftdownTimer</tspan><tspan x="805.5" dy="1.12em">0.03s (1.01%)</tspan></text></g>
<g class="node" id="n_mapassign"><rect class="n02" x="1607" y="2024" width="146.5" height="69"/><text class="f1" x="1680.25" y="2041.2"><tspan x="1680.25">runtime</tspan><tspan x="1680.25" dy="1.12em">mapassign_faststr</tspan><tspan x="1680.25" dy="1.12em">0.01s (0.34%)</tspan><tspan x="1680.25" dy="1.12em">of 0.02s (0.67%)</tspan></text></g>
<g class="node" id="n_newobject"><rect class="n11" x="1777.5" y="2035" width="118.5" height="48"/><text class="f0" x="1836.75" y="2050.9"><tspan x="1836.75">runtime</tspan><tspan x="1836.75" dy="1.12em">newobject</tspan><tspan x="1836.75" dy="1.12em">0 of 0.11s (3.69%)</tspan></text></g>
<g class="node" id="n_compressor"><rect class="n02" x="1970" y="2029.5" width="118.5" height="59"/><text class="f0" x="2029.25" y="2045.1"><tspan x="2029.25">flate</tspan><tspan x="2029.25" dy="1.12em">(*compressor)</tspan><tspan x="2029.25" dy="1.12em">init</tspan><tspan x="2029.25" dy="1.12em">0 of 0.02s (0.67%)</tspan></text></g>
<g class="node" id="n_insert_func1"><rect class="n02" x="2192" y="2024" width="119" height="70.5"/><text class="f0" x="2251.5" y="2039.5"><tspan x="2251.5">ngt</tspan><tspan x="2251.5" dy="1.12em">(*ngt)</tspan><tspan x="2251.5" dy="1.12em">Insert</tspan><tspan x="2251.5" dy="1.12em">func1</tspan><tspan x="2251.5" dy="1.12em">0 of 0.02s (0.67%)</tspan></text></g>
<g class="node" id="n_chansend"><rect class="n08" x="586" y="2187.5" width="129.5" height="69.5"/><text class="f1" x="650.75" y="2205"><tspan x="650.75">runtime</tspan><tspan x="650.75" dy="1.12em">chansend</tspan><tspan x="650.75" dy="1.12em">0.01s (0.34%)</tspan><tspan x="650.75" dy="1.12em">of 0.08s (2.68%)</tspan></text></g>
<g class="node" id="n_mallocgc"><rect class="n14" x="1761" y="2182" width="152.5" height="80.5"/><text class="f3" x="1837.25" y="2201.4"><tspan x="1837.25">runtime</tspan><tspan x="1837.25" dy="1.12em">mallocgc</tspan><tspan x="1837.25" dy="1.12em">0.05s (1.68%)</tspan><tspan x="1837.25" dy="1.12em">of 0.14s (4.70%)</tspan></text></g>
<g class="node" id="n_gcbgmarkworker"><rect class="n04" x="2015" y="2198" width="119" height="48.5"/><text class="f0" x="2074.5" y="2214.2"><tspan x="2074.5">runtime</tspan><tspan x="2074.5" dy="1.12em">gcBgMarkWorker</tspan><tspan x="2074.5" dy="1.12em">0 of 0.04s (1.34%)</tspan></text></g>
<g class="node" id="n_cfunc_insert"><rect class="n02" x="2168" y="2198" width="194.5" height="48.5"/><text class="f0" x="2265.25" y="2214.2"><tspan x="2265.25">ngt</tspan><tspan x="2265.25" dy="1.12em">_Cfunc_ngt_insert_index_as_float</tspan><tspan x="2265.25" dy="1.12em">0 of 0.02s (0.67%)</tspan></text></g>
<g class="node" id="n_send"><rect class="n07" x="586" y="2353" width="129.5" height="68.5"/><text class="f1" x="650.75" y="2370"><tspan x="650.75">runtime</tspan><tspan x="650.75" dy="1.12em">send</tspan><tspan x="650.75" dy="1.12em">0.01s (0.34%)</tspan><tspan x="650.75" dy="1.12em">of 0.07s (2.35%)</tspan></text></g>
<g class="node" id="n_heapbits"><rect class="n04" x="1668" y="2350.5" width="149" height="74.5"/><text class="f2" x="1742.5" y="2368.5"><tspan x="1742.5">runtime</tspan><tspan x="1742.5" dy="1.12em">heapBitsSetType</tspan><tspan x="1742.5" dy="1.12em">0.03s (1.01%)</tspan><tspan x="1742.5" dy="1.12em">of 0.04s (1.34%)</tspan></text></g>
<g class="node" id="n_atomicmspan"><rect class="n02" x="1841.5" y="2358.5" width="146" height="58.5"/><text class="f0" x="1914.5" y="2373.9"><tspan x="1914.5">runtime</tspan><tspan x="1914.5" dy="1.12em">(*atomicMSpanPointer)</tspan><tspan x="1914.5" dy="1.12em">Load</tspan><tspan x="1914.5" dy="1.12em">0 of 0.02s (0.67%)</tspan></text></g>
<g class="node" id="n_systemstack"><rect class="n07" x="2015" y="2364" width="119" height="48"/><text class="f0" x="2074.5" y="2379.9"><tspan x="2074.5">runtime</tspan><tspan x="2074.5" dy="1.12em">systemstack</tspan><tspan x="2074.5" dy="1.12em">0 of 0.07s (2.35%)</tspan></text></g>
<g class="node" id="n_cgocall"><rect class="n16" x="2329" y="2352.5" width="154.5" height="70.5"/><text class="f4" x="2406.25" y="2374"><tspan x="2406.25">runtime</tspan><tspan x="2406.25" dy="1.08em">cgocall</tspan><tspan x="2406.25" dy="1.08em">0.16s (5.37%)</tspan></text></g>
<g class="node" id="n_ready"><rect class="n03" x="575.5" y="2516" width="129" height="69"/><text class="f1" x="640" y="2533.2"><tspan x="640">runtime</tspan><tspan x="640" dy="1.12em">ready</tspan><tspan x="640" dy="1.12em">0.02s (0.67%)</tspan><tspan x="640" dy="1.12em">of 0.03s (1.01%)</tspan></text></g>
<g class="node" id="n_senddirect"><rect class="n02" x="728.5" y="2516" width="129.5" height="69"/><text class="f1" x="793.25" y="2533.2"><tspan x="793.25">runtime</tspan><tspan x="793.25" dy="1.12em">sendDirect</tspan><tspan x="793.25" dy="1.12em">0.01s (0.34%)</tspan><tspan x="793.25" dy="1.12em">of 0.02s (0.67%)</tspan></text></g>
<g class="node" id="n_unlock"><rect class="n04" x="881.5" y="2526.5" width="119" height="48"/><text class="f0" x="941" y="2542.4"><tspan x="941">runtime</tspan><tspan x="941" dy="1.12em">unlock</tspan><tspan x="941" dy="1.12em">0 of 0.04s (1.34%)</tspan></text></g>
<g class="node" id="n_unsafepointer"><rect class="n02" x="1843.5" y="2516" width="134" height="69"/><text class="f1" x="1910.5" y="2533.2"><tspan x="1910.5">atomic</tspan><tspan x="1910.5" dy="1.12em">(*UnsafePointer)</tspan><tspan x="1910.5" dy="1.12em">Load</tspan><tspan x="1910.5" dy="1.12em">0.02s (0.67%)</tspan></text></g>
<g class="node" id="n_scanobject"><rect class="n06" x="2002.5" y="2512.5" width="144.5" height="75"/><text class="f2" x="2074.75" y="2530.7"><tspan x="2074.75">runtime</tspan><tspan x="2074.75" dy="1.12em">scanobject</tspan><tspan x="2074.75" dy="1.12em">0.03s (1.01%)</tspan><tspan x="2074.75" dy="1.12em">of 0.06s (2.01%)</tspan></text></g>
<g class="node" id="n_nanotime"><rect class="n04" x="474.5" y="2676" width="125.5" height="59"/><text class="f2" x="537.25" y="2694.3"><tspan x="537.25">runtime</tspan><tspan x="537.25" dy="1.12em">nanotime</tspan><tspan x="537.25" dy="1.12em">0.04s (1.34%)</tspan></text></g>
<g class="node" id="n_unlock2"><rect class="n04" x="878.5" y="2676" width="125.5" height="59"/><text class="f2" x="941.25" y="2694.3"><tspan x="941.25">runtime</tspan><tspan x="941.25" dy="1.12em">unlock2</tspan><tspan x="941.25" dy="1.12em">0.04s (1.34%)</tspan></text></g>
</g>
</svg>
